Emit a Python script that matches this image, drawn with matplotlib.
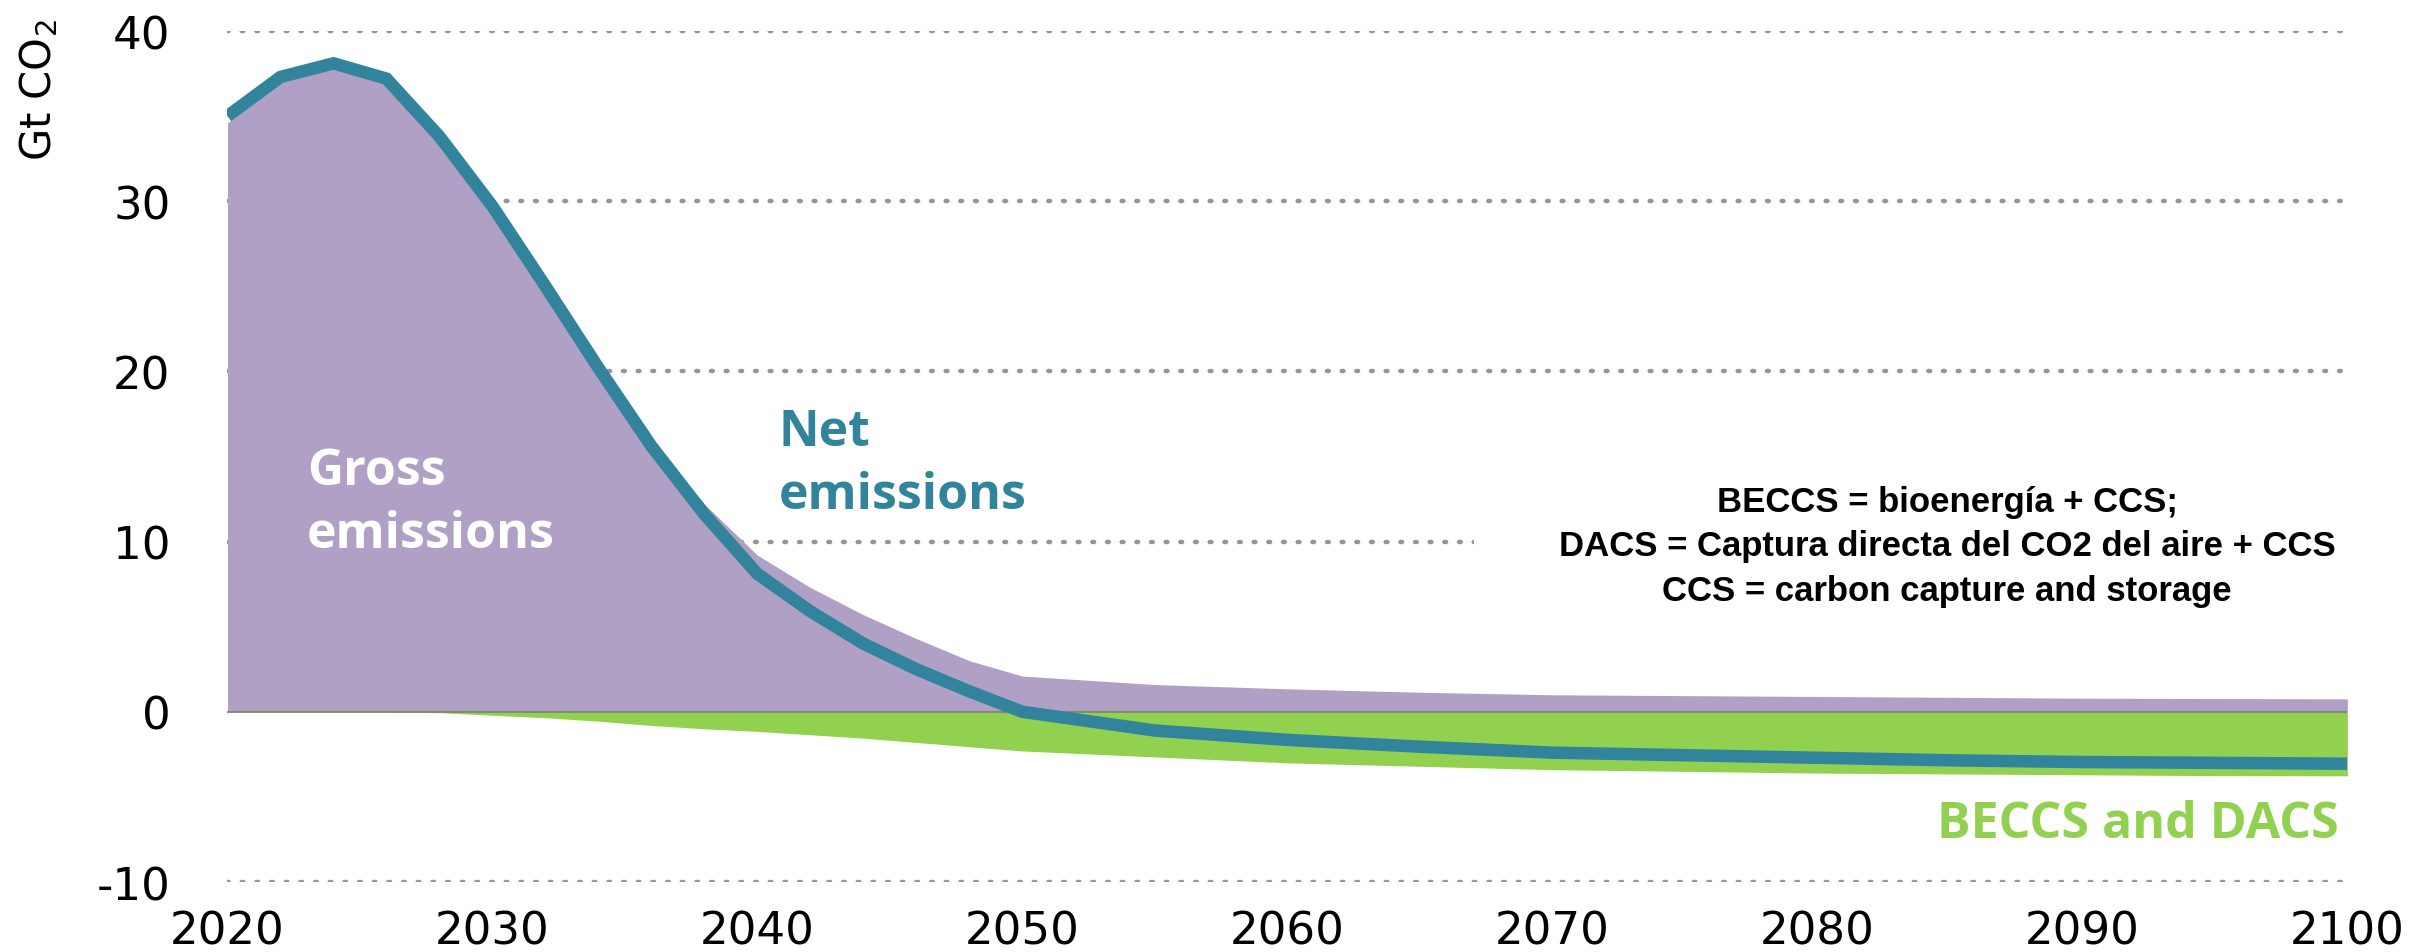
import numpy as np
import matplotlib.pyplot as plt

plt.rcParams['axes.unicode_minus'] = False

# years of the scenario (2-year steps up to 2050, then 5-year steps)
years = [2020, 2022, 2024, 2026, 2028, 2030, 2032, 2034, 2036, 2038, 2040,
         2042, 2044, 2046, 2048, 2050, 2055, 2060, 2065, 2070, 2075, 2080,
         2085, 2090, 2095, 2100]

# gross emissions (Gt CO2)
gross = [34.6, 37.0, 37.8, 36.9, 33.6, 29.6, 25.0, 20.3, 15.9, 12.2, 9.2,
         7.3, 5.7, 4.3, 3.0, 2.1, 1.6, 1.35, 1.15, 1.0, 0.95, 0.9,
         0.85, 0.8, 0.78, 0.76]

# BECCS and DACS removals (Gt CO2)
removals = [0.0, 0.0, 0.0, 0.0, -0.05, -0.2, -0.35, -0.55, -0.8, -1.0, -1.15,
            -1.35, -1.55, -1.8, -2.05, -2.3, -2.65, -3.0, -3.2, -3.4, -3.5, -3.6,
            -3.65, -3.7, -3.75, -3.76]

# net emissions (Gt CO2)
net = [35.0, 37.3, 38.1, 37.2, 33.8, 29.7, 25.0, 20.2, 15.6, 11.6, 8.1,
       5.9, 4.0, 2.5, 1.2, 0.0, -1.1, -1.65, -2.05, -2.4, -2.55, -2.7,
       -2.85, -2.95, -3.0, -3.05]

y_ticks = [-10, 0, 10, 20, 30, 40]
x_ticks = [2020, 2030, 2040, 2050, 2060, 2070, 2080, 2090, 2100]

purple = '#b0a0c6'
green = '#92d050'
teal = '#31849b'

fig = plt.figure(figsize=(24.15, 9.53), dpi=100)
ax = fig.add_axes([0.0942, 0.07345, 0.8778, 0.89297])

ax.fill_between(years, 0, gross, color=purple, lw=0, zorder=2)
ax.fill_between(years, 0, removals, color=green, lw=0, zorder=2)
ax.axhline(0, color='#7a8a6a', lw=1.3, zorder=2.5)
ax.plot(years, net, color=teal, lw=9, solid_joinstyle='miter',
        solid_capstyle='butt', zorder=3)

ax.set_xlim(2020, 2100)
ax.set_ylim(-10, 40)
ax.set_xticks(x_ticks)
ax.set_yticks(y_ticks)
ax.tick_params(axis='both', length=0, labelsize=32.5)
ax.tick_params(axis='y', pad=41)
ax.tick_params(axis='x', pad=20)
for s in ax.spines.values():
    s.set_visible(False)

# dotted gridlines, none at zero
ax.set_axisbelow(True)
ax.yaxis.grid(True, color='#959595', lw=3.2, linestyle=(0, (0.4, 2.9)),
              dash_capstyle='round')
ax.get_ygridlines()[1].set_visible(False)

fig.text(0.0162, 0.905, 'Gt CO$_2$', rotation=90, fontsize=30,
         ha='center', va='center')

# series labels
ax.text(2023.0, 12.3, 'Gross\nemissions', color='white', fontsize=36,
        fontfamily='Open Sans', fontweight='bold', ha='left', va='center',
        linespacing=1.33, zorder=4)
ax.text(2040.8, 14.6, 'Net\nemissions', color=teal, fontsize=36,
        fontfamily='Open Sans', fontweight='bold', ha='left', va='center',
        linespacing=1.33, zorder=4)
ax.text(2092.1, -7.34, 'BECCS and DACS', color=green, fontsize=36,
        fontfamily='Open Sans', fontweight='bold', ha='center',
        va='baseline', zorder=4)

# definitions box (white box hides part of the 10 gridline)
ax.text(2084.9, 9.75,
        'BECCS = bioenergía + CCS;\n'
        'DACS = Captura directa del CO2 del aire + CCS\n'
        'CCS = carbon capture and storage',
        fontsize=25, fontweight='bold', fontfamily='Liberation Sans',
        ha='center', va='center', multialignment='center', linespacing=1.45,
        bbox=dict(boxstyle='square,pad=2.45', fc='white', ec='none'),
        zorder=1)

fig.savefig('out.png', dpi=100)
